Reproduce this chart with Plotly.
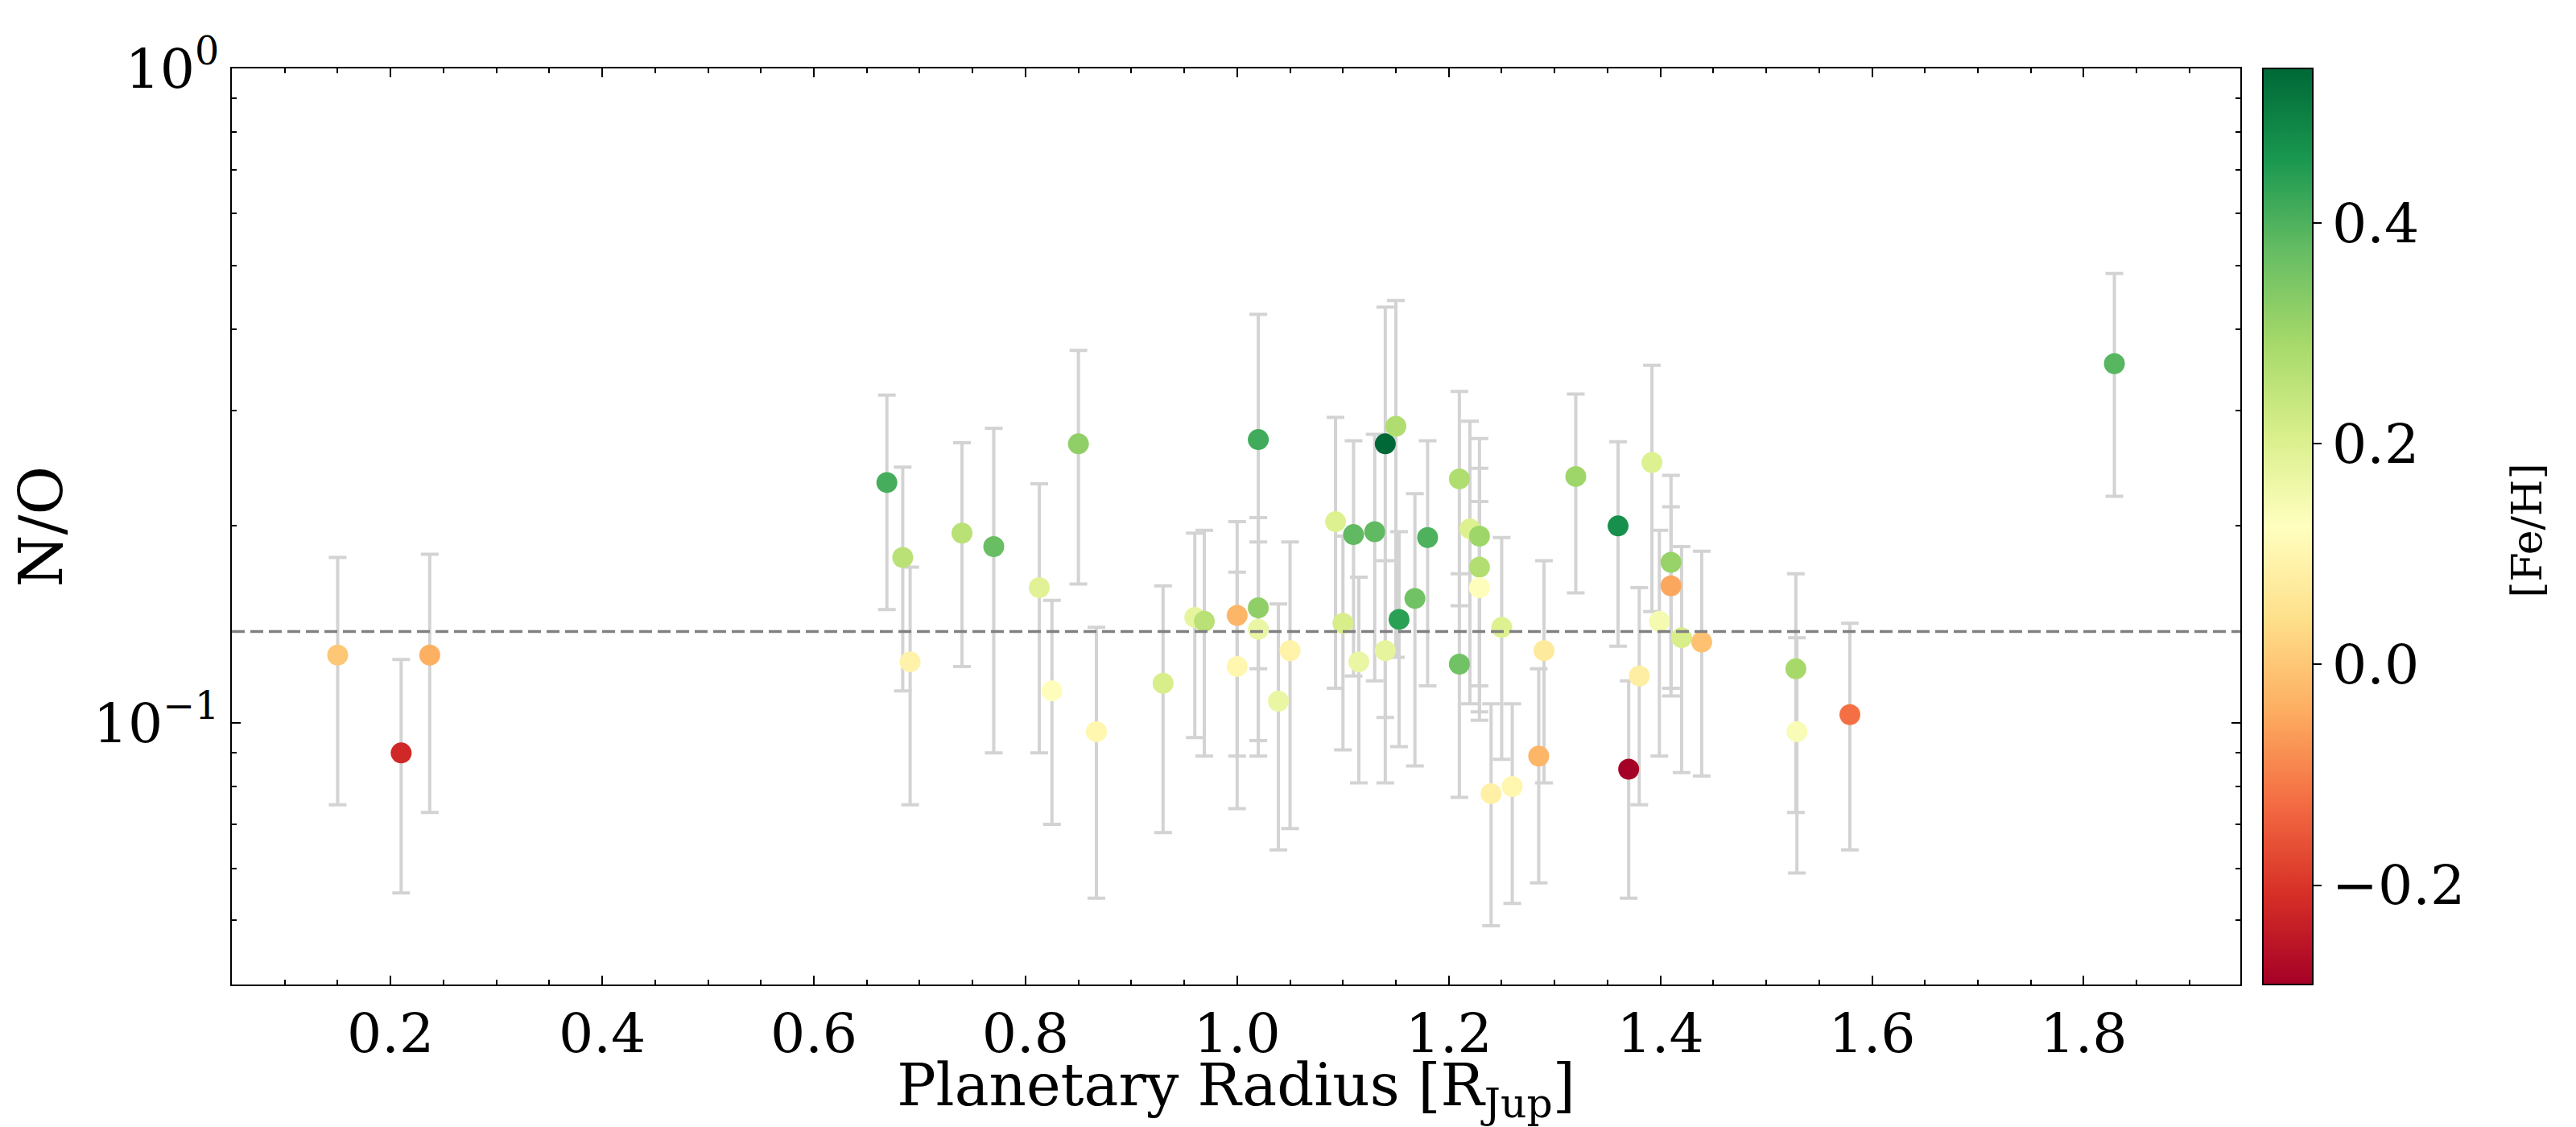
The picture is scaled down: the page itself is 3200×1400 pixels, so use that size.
import plotly.graph_objects as go

# planetary radius [R_Jup], N/O ratio with 1-sigma error, host star metallicity
radius = [0.150, 0.210, 0.237, 0.669, 0.684, 0.691, 0.740, 0.770, 0.813, 0.825,
          0.850, 0.867, 0.930, 0.960, 0.969, 1.000, 1.000, 1.020, 1.020, 1.020,
          1.039, 1.050, 1.093, 1.100, 1.110, 1.115, 1.130, 1.140, 1.140, 1.150,
          1.153, 1.168, 1.180, 1.210, 1.210, 1.220, 1.229, 1.229, 1.229, 1.240,
          1.250, 1.260, 1.285, 1.290, 1.320, 1.360, 1.370, 1.380, 1.392, 1.399,
          1.410, 1.410, 1.420, 1.439, 1.528, 1.529, 1.579, 1.829]
n_o = [0.127, 0.090, 0.127, 0.233, 0.179, 0.124, 0.195, 0.186, 0.161, 0.112,
       0.267, 0.097, 0.115, 0.145, 0.143, 0.146, 0.122, 0.271, 0.150, 0.139,
       0.108, 0.129, 0.203, 0.142, 0.194, 0.124, 0.196, 0.267, 0.129, 0.284,
       0.144, 0.155, 0.192, 0.236, 0.123, 0.198, 0.193, 0.173, 0.161, 0.078,
       0.140, 0.080, 0.089, 0.129, 0.238, 0.200, 0.085, 0.118, 0.250, 0.143,
       0.176, 0.162, 0.135, 0.133, 0.121, 0.097, 0.103, 0.354]
n_o_err = [0.052, 0.035, 0.054, 0.084, 0.067, 0.049, 0.073, 0.096, 0.071, 0.042,
           0.104, 0.043, 0.047, 0.050, 0.054, 0.057, 0.048, 0.150, 0.056, 0.050,
           0.044, 0.060, 0.090, 0.051, 0.076, 0.043, 0.080, 0.165, 0.048, 0.158,
           0.052, 0.069, 0.078, 0.085, 0.046, 0.091, 0.079, 0.072, 0.057, 0.029,
           0.052, 0.027, 0.032, 0.048, 0.080, 0.069, 0.031, 0.043, 0.102, 0.054,
           0.063, 0.052, 0.051, 0.050, 0.048, 0.038, 0.039, 0.132]
fe_h = [0.00, -0.22, -0.04, 0.41, 0.26, 0.09, 0.26, 0.37, 0.19, 0.12,
        0.32, 0.10, 0.21, 0.18, 0.26, -0.03, 0.10, 0.415, 0.32, 0.17,
        0.17, 0.09, 0.20, 0.21, 0.38, 0.17, 0.38, 0.54, 0.18, 0.275,
        0.44, 0.36, 0.40, 0.275, 0.36, 0.20, 0.30, 0.27, 0.12, 0.085,
        0.20, 0.10, -0.03, 0.07, 0.30, 0.47, -0.29, 0.08, 0.20, 0.15,
        0.31, -0.05, 0.21, -0.01, 0.29, 0.14, -0.12, 0.39]

solar_n_o = 0.138

y_tick_values = [0.1, 1]
y_tick_labels = ["10<sup>\u22121</sup>", "10<sup>0</sup>"]
y_minor_values = [0.05, 0.06, 0.07, 0.08, 0.09, 0.2, 0.3, 0.4, 0.5, 0.6, 0.7, 0.8, 0.9]
cbar_tick_values = [-0.2, 0.0, 0.2, 0.4]

# colorbrewer RdYlGn
rdylgn = ["#a50026", "#d73027", "#f46d43", "#fdae61", "#fee08b", "#ffffbf",
          "#d9ef8b", "#a6d96a", "#66bd63", "#1a9850", "#006837"]
colorscale = [[i / (len(rdylgn) - 1), c] for i, c in enumerate(rdylgn)]

font_family = "DejaVu Serif"

fig = go.Figure()
fig.add_trace(go.Scatter(
    x=radius,
    y=n_o,
    mode="markers",
    error_y=dict(type="data", array=n_o_err, visible=True,
                 color="lightgray", thickness=4, width=11),
    marker=dict(
        size=26,
        color=fe_h,
        colorscale=colorscale,
        line=dict(width=0),
        colorbar=dict(
            thickness=62,
            len=1,
            lenmode="fraction",
            y=0.5,
            yanchor="middle",
            x=1.0112,
            xanchor="left",
            xpad=0,
            ypad=0,
            outlinewidth=2,
            outlinecolor="black",
            ticks="outside",
            ticklen=10,
            tickwidth=2,
            tickcolor="black",
            tickvals=cbar_tick_values,
            tickformat=".1f",
            tickfont=dict(family=font_family, size=68, color="black"),
        ),
    ),
    showlegend=False,
))

fig.add_hline(y=solar_n_o, line=dict(color="gray", width=3.5, dash="16px,7px"))

# colorbar label, placed further out than plotly's own colorbar title would go
fig.add_annotation(
    text="[Fe/H]",
    xref="paper", yref="paper",
    x=1.1427, y=0.495,
    xanchor="center", yanchor="middle",
    textangle=-90,
    showarrow=False,
    font=dict(family=font_family, size=52, color="black"),
)

axis_common = dict(
    showline=True,
    linecolor="black",
    linewidth=2,
    mirror="ticks",
    ticks="inside",
    ticklen=11,
    tickwidth=2,
    tickcolor="black",
    showgrid=False,
    zeroline=False,
    tickfont=dict(family=font_family, size=68, color="black"),
)

fig.update_xaxes(
    **axis_common,
    range=[0.05, 1.948],
    tick0=0.2,
    dtick=0.2,
    tickformat=".1f",
    minor=dict(dtick=0.05, ticks="inside", ticklen=6, tickwidth=1.5, tickcolor="black"),
    title=dict(text="Planetary Radius [R<sub>Jup</sub>]",
               font=dict(family=font_family, size=72, color="black")),
)
fig.update_yaxes(
    **axis_common,
    type="log",
    range=[-1.3995, 0],
    tickvals=y_tick_values,
    ticktext=y_tick_labels,
    minor=dict(tickvals=y_minor_values, ticks="inside", ticklen=6, tickwidth=1.5,
               tickcolor="black"),
    title=dict(text="N/O", font=dict(family=font_family, size=74, color="black")),
)

# the page body keeps its default 8px margin, so the figure is 8px smaller
fig.update_layout(
    width=3192,
    height=1392,
    margin=dict(l=280, r=417, t=77, b=168),
    paper_bgcolor="white",
    plot_bgcolor="white",
    font=dict(family=font_family, color="black"),
)

fig.write_html("out.html")
